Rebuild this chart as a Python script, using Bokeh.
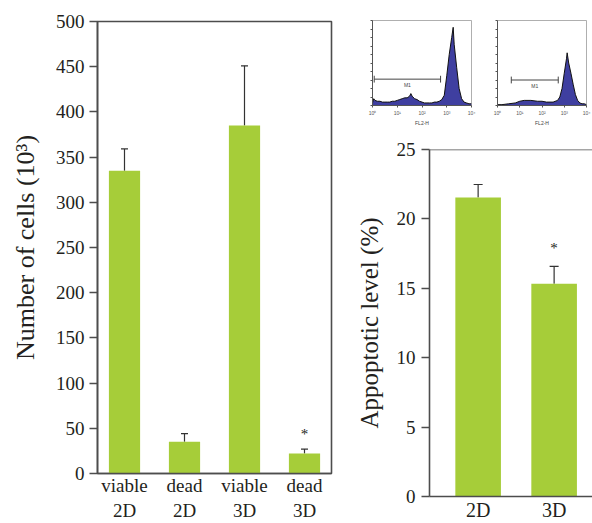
from bokeh.plotting import figure
from bokeh.models import Range1d, FixedTicker, Whisker, TeeHead, ColumnDataSource, Span
from bokeh.layouts import row, column
from bokeh.embed import file_html
from bokeh.resources import INLINE
from bokeh.core.properties import value

# ---------------- data ----------------
left_labels = ["viable\n2D", "dead\n2D", "viable\n3D", "dead\n3D"]
left_values = [335, 35, 385, 22]
left_errors = [24, 9, 66, 5]
left_sig = [False, False, False, True]
left_ticks = [0, 50, 100, 150, 200, 250, 300, 350, 400, 450, 500]

right_labels = ["2D", "3D"]
right_values = [21.55, 15.33]
right_errors = [0.93, 1.25]
right_sig = [False, True]
right_ticks = [0, 5, 10, 15, 20, 25]

# flow-cytometry histogram insets (x = log10 FL2-H, y = relative counts)
h1_x = [0.0, 0.05, 0.1, 0.2, 0.3, 0.4, 0.5, 0.6, 0.7, 0.8, 0.9, 1.0, 1.1, 1.2, 1.3, 1.4, 1.5,
        1.55, 1.6, 1.7, 1.8, 1.9, 2.0, 2.1, 2.2, 2.3, 2.4, 2.5, 2.6, 2.7, 2.8, 2.9, 3.0, 3.1,
        3.2, 3.26, 3.3, 3.4, 3.5, 3.6, 3.7, 3.8, 3.9, 4.0]
h1_y = [3, 8, 6, 5, 5, 4, 4, 4, 4, 5, 5, 6, 7, 8, 9, 9, 11,
        14, 11, 8, 7, 5, 4, 3, 3, 3, 3, 4, 4, 5, 7, 12, 35, 60,
        80, 92, 72, 45, 20, 8, 4, 3, 2, 2]
h2_x = [0.0, 0.2, 0.5, 0.8, 1.0, 1.2, 1.5, 1.8, 2.0, 2.2, 2.5, 2.7, 2.8, 2.9, 3.0, 3.1,
        3.13, 3.2, 3.3, 3.4, 3.5, 3.6, 3.7, 3.8, 3.9, 4.0]
h2_y = [1, 1, 2, 3, 5, 6, 6, 5, 5, 4, 4, 6, 10, 20, 38, 55,
        62, 50, 38, 25, 13, 6, 3, 2, 2, 1]
m1_1 = [0.07, 2.75, 31]
m1_2 = [0.62, 2.73, 30]
log_ticks = [0, 1, 2, 3, 4]
log_labels = ["10\u2070", "10\u00b9", "10\u00b2", "10\u00b3", "10\u2074"]

# ---------------- style ----------------
FONT = "Liberation Serif"
TXT = "#231f20"
AX = "#4d4d4d"
BAR = "#a6cd39"
HIST = "#3f3fa0"


def style_axes(p, tick_size, label_size):
    for ax in p.axis:
        ax.axis_line_color = AX
        ax.axis_line_width = 1.6
        ax.major_tick_line_color = AX
        ax.major_tick_line_width = 1.3
        ax.minor_tick_line_color = None
        ax.major_label_text_font = FONT
        ax.major_label_text_font_size = tick_size
        ax.major_label_text_color = TXT
        ax.axis_label_text_font = FONT
        ax.axis_label_text_font_size = label_size
        ax.axis_label_text_font_style = "normal"
        ax.axis_label_text_color = TXT


# ---------------- left panel ----------------
n = len(left_values)
lsrc = ColumnDataSource(dict(
    x=list(range(n)), top=left_values,
    upper=[v + e for v, e in zip(left_values, left_errors)],
))
left = figure(width=344, height=523, x_range=Range1d(-0.45, n - 0.55), y_range=Range1d(0, 500),
              output_backend="svg", toolbar_location=None,
              min_border_left=97, min_border_right=13, min_border_top=21, min_border_bottom=50)
left.grid.visible = False
left.outline_line_color = AX
left.outline_line_width = 1.6
left.vbar(x="x", top="top", width=0.52, bottom=0, source=lsrc, fill_color=BAR, line_color=None)
left.add_layout(Whisker(source=lsrc, base="x", upper="upper", lower="top",
                        upper_head=TeeHead(size=7, line_color="#333333", line_width=1.2),
                        lower_head=None, line_color="#333333", line_width=1.2))
star_x = [i for i in range(n) if left_sig[i]]
star_y = [left_values[i] + left_errors[i] + 17 for i in range(n) if left_sig[i]]
left.text(x=star_x, y=star_y, text=["*"] * len(star_x), text_font=value(FONT),
          text_font_size="15px", text_align="center", text_baseline="middle", text_color=TXT)
left.yaxis.ticker = FixedTicker(ticks=left_ticks)
left.yaxis.major_tick_in = 0
left.yaxis.major_tick_out = 8
left.yaxis.major_label_standoff = 5
left.yaxis.axis_label = "Number of cells (10\u00b3)"
left.yaxis.axis_label_standoff = 13
left.xaxis.ticker = FixedTicker(ticks=list(range(n)))
left.xaxis.major_label_overrides = {i: lab for i, lab in enumerate(left_labels)}
left.xaxis.major_tick_in = 0
left.xaxis.major_tick_out = 0
left.xaxis.major_label_standoff = 1
style_axes(left, "19px", "26px")
left.xaxis.major_label_text_font_size = "19px"

# ---------------- right panel ----------------
m = len(right_values)
rsrc = ColumnDataSource(dict(
    x=list(range(m)), top=right_values,
    upper=[v + e for v, e in zip(right_values, right_errors)],
))
right = figure(width=248, height=395, x_range=Range1d(-0.64, m - 0.495), y_range=Range1d(0, 25),
               output_backend="svg", toolbar_location=None,
               min_border_left=85, min_border_right=0, min_border_top=21, min_border_bottom=27)
right.grid.visible = False
right.outline_line_color = None
right.vbar(x="x", top="top", width=0.6, bottom=0, source=rsrc, fill_color=BAR, line_color=None)
right.add_layout(Whisker(source=rsrc, base="x", upper="upper", lower="top",
                         upper_head=TeeHead(size=9, line_color="#333333", line_width=1.2),
                         lower_head=None, line_color="#333333", line_width=1.2))
right.add_layout(Span(location=25, dimension="width", line_color=AX, line_width=1.6))
rstar_x = [i for i in range(m) if right_sig[i]]
rstar_y = [right_values[i] + right_errors[i] + 1.3 for i in range(m) if right_sig[i]]
right.text(x=rstar_x, y=rstar_y, text=["*"] * len(rstar_x), text_font=value(FONT),
           text_font_size="15px", text_align="center", text_baseline="middle", text_color=TXT)
right.yaxis.ticker = FixedTicker(ticks=right_ticks)
right.yaxis.major_tick_in = 0
right.yaxis.major_tick_out = 8
right.yaxis.major_label_standoff = 6
right.yaxis.axis_label = "Appoptotic level (%)"
right.yaxis.axis_label_standoff = 11
right.xaxis.ticker = FixedTicker(ticks=list(range(m)))
right.xaxis.major_label_overrides = {i: lab for i, lab in enumerate(right_labels)}
right.xaxis.major_tick_in = 0
right.xaxis.major_tick_out = 0
right.xaxis.major_label_standoff = 2
style_axes(right, "19px", "25px")
right.xaxis.major_label_text_font_size = "20px"


# ---------------- histogram insets ----------------
def inset(hx, hy, m1, width, mbl, mbr, mbt, frame_h):
    p = figure(width=width, height=128, x_range=Range1d(0, 4), y_range=Range1d(0, 100),
               output_backend="svg", toolbar_location=None,
               min_border_left=mbl, min_border_right=mbr, min_border_top=mbt,
               min_border_bottom=128 - mbt - frame_h)
    p.grid.visible = False
    p.outline_line_color = "#9a9a9a"
    p.outline_line_width = 0.8
    p.varea(x=hx, y1=[0] * len(hx), y2=hy, fill_color=HIST)
    p.line(x=hx, y=hy, line_color="#111111", line_width=1)
    p.segment(x0=[m1[0]], y0=[m1[2]], x1=[m1[1]], y1=[m1[2]], line_color="#444444", line_width=1)
    p.segment(x0=[m1[0], m1[1]], y0=[m1[2] - 4] * 2, x1=[m1[0], m1[1]], y1=[m1[2] + 4] * 2,
              line_color="#444444", line_width=1)
    p.text(x=[(m1[0] + m1[1]) / 2], y=[m1[2] - 3], text=["M1"], text_font_size="5px",
           text_align="center", text_baseline="top", text_color="#444444")
    p.xaxis.ticker = FixedTicker(ticks=log_ticks)
    p.xaxis.major_label_overrides = {t: lab for t, lab in zip(log_ticks, log_labels)}
    p.xaxis.axis_label = "FL2-H"
    p.xaxis.axis_label_text_font_size = "5px"
    p.xaxis.axis_label_standoff = 1
    p.xaxis.axis_label_text_font_style = "normal"
    p.xaxis.major_label_text_font_size = "5px"
    p.xaxis.major_label_standoff = 2
    yt = list(range(0, 101, 10))
    p.yaxis.ticker = FixedTicker(ticks=yt)
    p.yaxis.major_label_overrides = {t: "" for t in yt}
    p.yaxis.major_label_standoff = 0
    for ax in p.axis:
        ax.axis_line_color = "#555555"
        ax.major_tick_line_color = "#555555"
        ax.major_tick_in = 0
        ax.major_tick_out = 2
        ax.minor_tick_line_color = None
        ax.major_label_text_color = "#555555"
    return p


ins1 = inset(h1_x, h1_y, m1_1, 141, 28, 14, 20, 87)
ins2 = inset(h2_x, h2_y, m1_2, 107, 12, 6, 16, 91)

layout = row(left, column(row(ins1, ins2), right))

open("out.html", "w").write(file_html(layout, INLINE))
